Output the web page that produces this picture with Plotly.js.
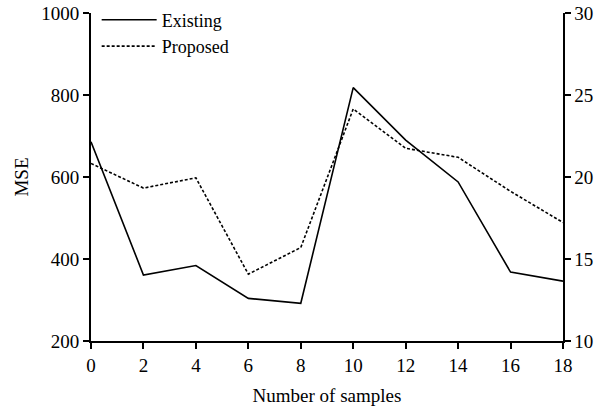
<!DOCTYPE html>
<html>
<head>
<meta charset="utf-8">
<script src="https://cdn.plot.ly/plotly-3.0.1.min.js"></script>
<style>html,body{margin:0;padding:0;background:#fff;}#chart{width:603px;height:408px;}</style>
</head>
<body>
<div id="chart"></div>
<script>
const samples = [0, 2, 4, 6, 8, 10, 12, 14, 16, 18];
const existing = [686, 361, 384, 304, 292, 818, 690, 588, 368, 346];
const proposed = [633, 573, 598, 363, 428, 766, 670, 648, 565, 489];
const xTicks = [0, 2, 4, 6, 8, 10, 12, 14, 16, 18];
const leftTicks = [200, 400, 600, 800, 1000];
const rightTicks = [10, 15, 20, 25, 30];

const fontFam = '"Liberation Serif", "Times New Roman", serif';
const FS = 19;
const traces = [
  {x: samples, y: existing, name: 'Existing', type: 'scatter', mode: 'lines',
   line: {color: '#000', width: 1.6}},
  {x: samples, y: proposed, name: 'Proposed', type: 'scatter', mode: 'lines',
   line: {color: '#000', width: 1.6, dash: '3px,2px'}},
  {x: [], y: [], yaxis: 'y2', type: 'scatter', mode: 'lines', showlegend: false, hoverinfo: 'skip'}
];
const layout = {
  width: 603, height: 408,
  margin: {l: 91, r: 40, t: 13, b: 67, autoexpand: false},
  paper_bgcolor: '#fff', plot_bgcolor: '#fff',
  font: {family: fontFam, size: FS, color: '#000'},
  showlegend: true,
  legend: {x: 0.012, y: 1.035, xanchor: 'left', yanchor: 'top', bgcolor: 'rgba(0,0,0,0)',
           font: {family: fontFam, size: 18, color: '#000'}, itemwidth: 55, tracegroupgap: 0},
  xaxis: {range: [0, 18], tickvals: xTicks, ticktext: xTicks.map(String),
          showgrid: false, zeroline: false, showline: true, linecolor: '#000', linewidth: 2,
          ticks: 'outside', ticklen: 6, tickwidth: 2, tickcolor: '#000',
          title: {text: 'Number of samples', font: {family: fontFam, size: FS}, standoff: 14}},
  yaxis: {range: [200, 1000], tickvals: leftTicks, ticktext: leftTicks.map(String),
          showgrid: false, zeroline: false, showline: true, linecolor: '#000', linewidth: 2,
          ticks: 'outside', ticklen: 6, tickwidth: 2, tickcolor: '#000',
          title: {text: 'MSE', font: {family: fontFam, size: FS}, standoff: 8}},
  yaxis2: {range: [10, 30], tickvals: rightTicks, ticktext: rightTicks.map(String),
           overlaying: 'y', side: 'right', anchor: 'x',
           showgrid: false, zeroline: false, showline: true, linecolor: '#000', linewidth: 1.5,
           ticks: 'outside', ticklen: 6, tickwidth: 2, tickcolor: '#000'}
};
Plotly.newPlot('chart', traces, layout, {displayModeBar: false, staticPlot: true});
</script>
</body>
</html>
